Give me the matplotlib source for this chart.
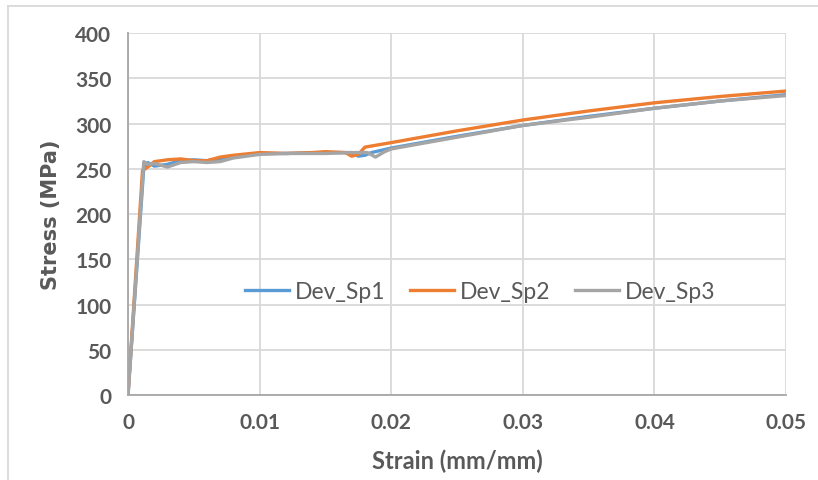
import numpy as np
import matplotlib
matplotlib.use("Agg")
import matplotlib.pyplot as plt
from matplotlib.lines import Line2D

plt.rcParams['font.family'] = ['Lato', 'DejaVu Sans']

# strain (mm/mm) and stress (MPa)
sp1_strain = [0, 0.0012, 0.0015, 0.002, 0.003, 0.004, 0.005, 0.006, 0.007, 0.008, 0.010,
              0.012, 0.015, 0.017, 0.0175, 0.018, 0.0185, 0.020, 0.025, 0.030, 0.035,
              0.040, 0.045, 0.050]
sp1_stress = [0, 252, 257, 253, 255, 259, 260, 259, 261, 263, 267,
              267, 268, 268, 264, 265, 268, 273, 286, 298, 308,
              317, 325, 332]

sp2_strain = [0, 0.0011, 0.0015, 0.002, 0.003, 0.004, 0.005, 0.006, 0.007, 0.008, 0.010,
              0.012, 0.014, 0.015, 0.0165, 0.017, 0.0175, 0.018, 0.020, 0.025, 0.030,
              0.035, 0.040, 0.045, 0.050]
sp2_stress = [0, 248, 252, 258, 260, 261, 259, 259, 263, 265, 268,
              267, 268, 269, 268, 264, 266, 274, 279, 292, 304,
              314, 323, 330, 336]

sp3_strain = [0, 0.0012, 0.0015, 0.002, 0.003, 0.004, 0.005, 0.006, 0.007, 0.008, 0.010,
              0.012, 0.015, 0.017, 0.0182, 0.0188, 0.0195, 0.020, 0.025, 0.030, 0.035,
              0.040, 0.045, 0.050]
sp3_stress = [0, 258, 255, 256, 252, 257, 258, 257, 258, 262, 266,
              267, 267, 268, 268, 263, 269, 272, 285, 298, 307,
              317, 325, 331]

labels = ['Dev_Sp1', 'Dev_Sp2', 'Dev_Sp3']
colors = ['#5B9BD5', '#ED7D31', '#A5A5A5']

fig = plt.figure(figsize=(8.18, 4.81), dpi=100)
ax = fig.add_axes([0.1565, 0.1767, 0.8045, 0.7523])

ax.plot(sp1_strain, sp1_stress, color=colors[0], lw=2.4, label=labels[0], solid_joinstyle='round')
ax.plot(sp2_strain, sp2_stress, color=colors[1], lw=2.4, label=labels[1], solid_joinstyle='round')
ax.plot(sp3_strain, sp3_stress, color=colors[2], lw=2.4, label=labels[2], solid_joinstyle='round')

ax.set_xlim(0, 0.05)
ax.set_ylim(0, 400)
ax.set_xticks(np.arange(0, 0.051, 0.01))
ax.set_xticklabels(['0', '0.01', '0.02', '0.03', '0.04', '0.05'])
ax.set_yticks(np.arange(0, 401, 50))
ax.grid(True, color='#D9D9D9', lw=1.3)
ax.set_axisbelow(True)
for s in ['top', 'right']:
    ax.spines[s].set_visible(False)
for s in ['left', 'bottom']:
    ax.spines[s].set_color('#A6A6A6')
    ax.spines[s].set_linewidth(1.3)
ax.tick_params(length=0, pad=12, colors='#595959', labelsize=15)
for t in ax.get_xticklabels() + ax.get_yticklabels():
    t.set_fontweight('bold')

ax.set_xlabel('Strain (mm/mm)', fontsize=17, fontweight='bold', color='#595959', labelpad=12)
ax.set_ylabel('Stress (MPa)', fontsize=15, fontweight='bold', color='#595959', labelpad=10,
              family='DejaVu Sans')

ax.legend(loc='center', bbox_to_anchor=(0.535, 0.285), ncol=3, frameon=False,
          fontsize=16.5, labelcolor='#595959', handlelength=1.9, columnspacing=1.1,
          handletextpad=0.25)

fig.add_artist(Line2D([0.0098, 0.0098], [0, 0.986], transform=fig.transFigure, color='#D9D9D9', lw=1.3))
fig.add_artist(Line2D([0.0098, 1.0], [0.986, 0.986], transform=fig.transFigure, color='#D9D9D9', lw=1.3))

fig.savefig('out.png', dpi=100)
